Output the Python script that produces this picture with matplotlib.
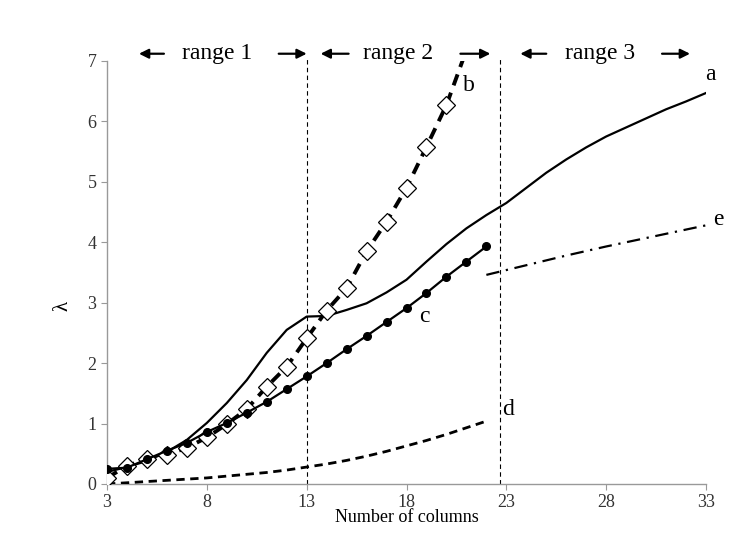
import numpy as np
import matplotlib
matplotlib.use("Agg")
import matplotlib.pyplot as plt

# Data
x_a = [3, 4, 5, 6, 7, 8, 9, 10, 11, 12, 13, 14, 15, 16, 17, 18, 19, 20, 21, 22, 23,
       24, 25, 26, 27, 28, 29, 30, 31, 32, 33]
y_a = [0.20, 0.28, 0.38, 0.53, 0.73, 1.01, 1.34, 1.72, 2.17, 2.55, 2.77, 2.78, 2.88,
       2.99, 3.17, 3.38, 3.68, 3.97, 4.23, 4.45, 4.65, 4.90, 5.15, 5.37, 5.57, 5.75,
       5.90, 6.05, 6.20, 6.33, 6.47]

x_b = list(range(3, 22))
y_b = [0.10, 0.30, 0.41, 0.48, 0.60, 0.77, 0.99, 1.24, 1.61, 1.94, 2.41, 2.87, 3.24,
       3.85, 4.34, 4.90, 5.58, 6.27, 7.18]

x_c = list(range(3, 23))
y_c = [0.25, 0.27, 0.41, 0.55, 0.68, 0.86, 1.01, 1.18, 1.36, 1.57, 1.78, 2.00, 2.23,
       2.45, 2.68, 2.91, 3.16, 3.43, 3.68, 3.93]

x_d = list(range(3, 23))
y_d = [0.00, 0.02, 0.04, 0.06, 0.08, 0.10, 0.13, 0.16, 0.19, 0.23, 0.28, 0.33, 0.39,
       0.46, 0.54, 0.63, 0.72, 0.82, 0.93, 1.04]

x_e = [22, 24, 26, 28, 30, 32, 33]
y_e = [3.46, 3.62, 3.78, 3.93, 4.07, 4.21, 4.28]

x_ticks = [3, 8, 13, 18, 23, 28, 33]
y_ticks = [0, 1, 2, 3, 4, 5, 6, 7]
range_bounds = [13.0, 22.7]

plt.rcParams['font.family'] = ['Liberation Serif', 'DejaVu Serif']

fig = plt.figure(figsize=(7.5, 5.33), dpi=100)
ax = fig.add_axes([0.1427, 0.092, 0.7986, 0.7936])

# Curves
ax.plot(x_a, y_a, color='black', linewidth=1.6, zorder=3)
ax.plot(x_b, y_b, color='black', linewidth=2.8, linestyle=(0, (3, 2)),
        marker='D', markersize=9.5, markerfacecolor='white', markeredgecolor='black',
        markeredgewidth=0.9, zorder=4)
ax.plot(x_c, y_c, color='black', linewidth=1.6, marker='o', markersize=5.5,
        markerfacecolor='black', zorder=5)
ax.plot(x_d, y_d, color='black', linewidth=2.0, linestyle=(0, (3, 2)), zorder=3)
ax.plot(x_e, y_e, color='black', linewidth=1.6, linestyle=(0, (6, 3, 1, 3)), zorder=3)

# Range separators
for xb in range_bounds:
    ax.plot([xb, xb], [0, 7.07], color='black', linewidth=0.8,
            linestyle=(0, (4, 3)), clip_on=False, zorder=2)

# Curve labels
for txt, xl, yl in [('a', 33.2, 6.77), ('b', 21.1, 6.6), ('c', 18.9, 2.77),
                    ('d', 23.1, 1.23), ('e', 33.6, 4.37)]:
    ax.text(xl, yl, txt, fontsize=17, ha='center', va='center', clip_on=False)

# Range annotations at the top
y_top = 7.12
for label, xc in [('range 1', 8.5), ('range 2', 17.6), ('range 3', 27.7)]:
    ax.text(xc, y_top, label, fontsize=17, ha='center', va='center', clip_on=False)
arrows = [(5.85, 4.6), (11.6, 13.0), (15.1, 13.7), (20.7, 22.2), (25.0, 23.7), (30.8, 32.2)]
for tail, head in arrows:
    ax.annotate('', xy=(head, y_top), xytext=(tail, y_top), xycoords='data',
                annotation_clip=False,
                arrowprops=dict(arrowstyle='-|>', color='black', lw=1.6,
                                mutation_scale=14, shrinkA=0, shrinkB=0))

ax.set_xlim(3, 33)
ax.set_ylim(0, 7)
ax.set_xticks(x_ticks)
ax.set_yticks(y_ticks)
ax.tick_params(axis='both', labelsize=13, colors='#333333', length=4, width=0.8)
ax.tick_params(axis='both', color='#999999')
for side in ['top', 'right']:
    ax.spines[side].set_visible(False)
for side in ['left', 'bottom']:
    ax.spines[side].set_color('#999999')
    ax.spines[side].set_linewidth(1.0)

ax.set_xlabel('Number of columns', fontsize=13, labelpad=-2)
ax.set_ylabel('λ', fontsize=15, labelpad=4)
ax.yaxis.set_label_coords(-0.058, 0.42)

fig.savefig('out.png', dpi=100)
